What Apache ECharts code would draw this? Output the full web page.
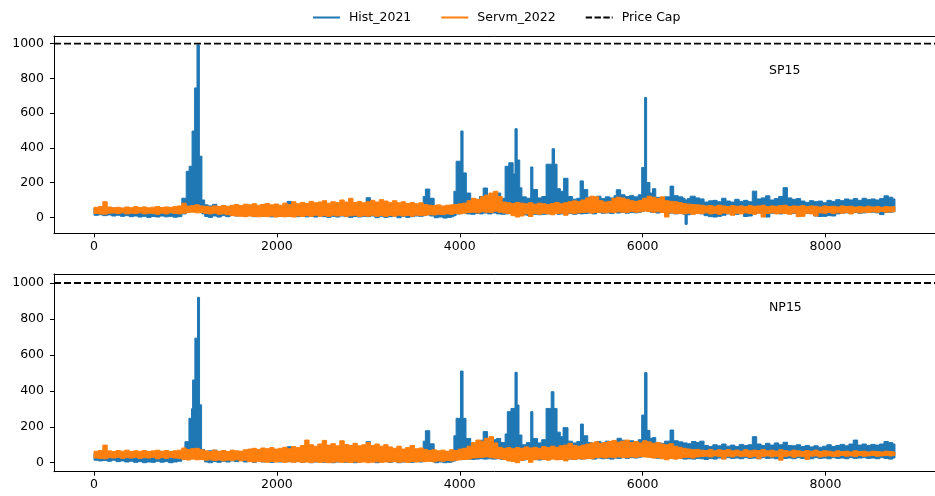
<!DOCTYPE html>
<html>
<head>
<meta charset="utf-8">
<script src="https://cdn.jsdelivr.net/npm/echarts@6/dist/echarts.min.js"></script>
<style>
  html, body { margin: 0; padding: 0; background: #fff; }
  #chart { width: 935px; height: 496px; }
</style>
</head>
<body>
<div id="chart"></div>
<script>
// Hourly prices over one year (8760 h), kept as runs of hours:
// each row is [startHour, lowest price, highest price] until the next row starts.
const HOURS_END = 8760;
const priceCap = 1000;
const zones = ['SP15', 'NP15'];
const seriesNames = ['Hist_2021', 'Servm_2022', 'Price Cap'];
const xTicks = [0, 2000, 4000, 6000, 8000];
const yTicks = [0, 200, 400, 600, 800, 1000];

const sp15Hist = [
  [0,12,55],[48,15,52],[96,10,58],[144,14,50],[192,8,54],[240,12,48],[288,6,52],[336,10,46],[384,4,50],[432,8,54],
  [480,2,48],[528,6,52],[576,0,45],[624,5,50],[672,2,48],[720,8,55],[768,3,50],[816,6,46],[864,1,52],[912,4,56],
  [960,20,110],[1008,30,265],[1040,40,294],[1072,50,497],[1100,60,745],[1126,70,992],[1152,50,352],[1180,20,100],
  [1210,5,72],[1248,0,66],[1296,8,75],[1344,2,62],[1392,10,68],[1440,4,58],[1488,12,55],[1536,8,60],[1584,14,52],
  [1632,6,58],[1680,10,55],[1728,4,50],[1776,12,56],[1824,6,52],[1872,10,60],[1920,3,54],[1968,8,58],[2016,5,62],
  [2064,10,56],[2112,6,92],[2160,8,60],[2208,4,56],[2256,10,62],[2304,3,58],[2352,6,64],[2400,2,60],[2448,8,72],
  [2496,4,58],[2544,0,62],[2592,6,56],[2640,2,60],[2688,8,64],[2736,4,58],[2784,0,62],[2832,5,60],[2880,2,66],
  [2928,6,70],[2976,4,113],[3024,8,60],[3072,-2,64],[3120,6,58],[3168,0,62],[3216,4,60],[3264,8,66],[3312,-2,58],
  [3360,6,62],[3408,0,60],[3456,4,64],[3504,8,58],[3552,6,70],
  [3600,10,120],[3624,15,163],[3672,8,110],[3720,-2,60],[3768,2,58],[3816,-4,62],[3864,0,56],[3912,4,70],
  [3936,10,150],[3960,20,323],[4012,30,497],[4036,25,256],[4072,20,140],[4120,18,95],[4168,22,100],[4216,20,120],
  [4256,25,169],[4304,20,110],[4352,25,130],[4400,20,140],[4448,18,110],[4496,20,294],[4536,22,314],[4584,22,250],
  [4604,25,510],[4628,22,330],[4656,20,170],[4680,15,118],[4728,12,110],[4776,20,290],[4800,18,160],[4850,15,112],
  [4896,18,120],[4944,20,306],[5010,25,395],[5036,22,306],[5064,18,165],[5100,20,150],[5136,20,225],[5184,22,120],
  [5232,18,105],[5280,22,110],[5316,20,210],[5352,22,160],[5400,25,115],[5448,20,110],[5496,28,122],[5544,24,108],
  [5592,26,118],[5640,22,112],[5688,28,125],[5712,25,159],[5760,28,130],[5808,24,120],[5856,28,125],[5904,26,118],
  [5952,30,130],[5990,35,287],[6022,40,690],[6044,35,200],[6080,30,140],[6108,28,165],[6144,25,115],[6192,28,110],
  [6240,22,118],[6300,25,180],[6340,20,125],[6390,22,118],[6440,18,110],[6464,-40,100],[6488,15,108],[6520,20,122],
  [6576,24,112],[6624,20,106],
  [6672,10,88],[6720,4,95],[6768,2,98],[6816,6,90],[6864,12,110],[6912,20,94],[6960,22,88],[7008,18,104],
  [7056,24,92],[7104,5,98],[7152,8,90],[7200,20,151],[7248,25,106],[7296,22,112],[7344,2,124],[7392,24,100],
  [7440,26,108],[7488,20,120],[7536,24,171],[7584,28,112],[7632,22,104],[7680,26,108],[7728,20,94],[7776,24,86],
  [7824,22,96],[7872,8,90],[7920,5,94],[7968,6,84],[8016,10,98],[8064,8,92],[8112,20,102],[8160,24,96],
  [8208,26,106],[8256,22,100],[8304,28,108],[8352,24,98],[8400,26,110],[8448,28,102],[8496,30,106],[8544,26,100],
  [8592,16,108],[8640,28,124],[8688,30,116],[8736,32,106]
];

const sp15Servm = [
  [0,22,58],[48,20,62],[96,18,90],[144,24,60],[192,25,55],[240,22,58],[288,26,54],[336,20,60],[384,24,56],[432,22,62],
  [480,26,57],[528,20,60],[576,24,55],[624,22,59],[672,18,62],[720,24,57],[768,20,60],[816,26,58],[864,22,63],[912,20,66],
  [960,24,82],[1008,28,65],[1056,30,68],[1104,26,72],[1152,28,66],[1200,22,64],[1248,20,60],[1296,24,66],[1344,18,62],
  [1392,20,68],[1440,15,64],[1488,10,70],[1536,8,74],[1584,6,68],[1632,4,76],[1680,8,72],[1728,5,78],[1776,3,70],
  [1824,6,75],[1872,4,80],[1920,8,72],[1968,2,77],[2016,5,70],[2064,3,82],[2112,6,74],[2160,2,90],[2208,8,78],
  [2256,5,86],[2304,10,80],[2352,6,92],[2400,12,84],[2448,7,88],[2496,10,96],[2544,5,82],[2592,12,90],[2640,8,85],
  [2688,11,100],[2736,6,88],[2784,9,110],[2832,12,86],[2880,5,92],[2928,10,84],[2976,7,90],[3024,12,98],[3072,6,88],
  [3120,10,102],[3168,5,94],[3216,11,86],[3264,7,96],[3312,12,84],[3360,8,90],[3408,11,80],[3456,7,86],[3504,12,78],
  [3552,10,84],[3600,12,74],[3648,15,70],[3696,14,68],[3744,18,72],[3792,16,66],[3840,20,70],[3888,18,72],
  [3936,22,74],[3984,20,78],[4032,25,82],[4080,28,96],[4128,30,110],[4176,26,104],[4224,32,118],[4272,30,128],
  [4320,28,140],[4368,35,150],[4416,30,120],[4464,25,88],[4512,22,84],[4560,10,80],[4608,2,86],[4656,8,82],
  [4704,20,78],[4752,5,84],[4800,22,76],[4848,18,82],[4896,24,78],[4944,20,74],[4992,15,80],[5040,22,86],
  [5088,24,78],[5136,12,84],[5184,25,90],[5232,22,95],[5280,26,92],[5328,28,100],[5376,30,112],[5424,25,122],
  [5472,28,118],[5520,30,96],[5568,26,88],[5616,30,92],[5664,28,110],[5712,32,116],[5760,30,112],[5808,28,104],
  [5856,34,96],[5904,30,92],[5952,32,98],[6000,36,110],[6048,34,122],[6096,30,116],[6144,32,108],[6192,28,118],
  [6240,2,96],[6288,26,92],[6336,22,90],[6384,22,86],[6432,20,80],[6480,24,76],[6528,18,74],[6576,22,72],
  [6624,22,70],[6672,26,66],[6720,20,68],[6768,24,64],[6816,18,70],[6864,25,66],[6912,22,62],[6960,12,68],
  [7008,24,64],[7056,20,66],[7104,26,62],[7152,22,68],[7200,18,64],[7248,24,66],[7296,2,70],[7344,22,62],
  [7392,26,66],[7440,20,64],[7488,24,68],[7536,22,70],[7584,18,62],[7632,25,66],[7680,4,64],[7728,6,68],
  [7776,24,62],[7824,20,66],[7872,8,64],[7920,26,60],[7968,24,66],[8016,28,62],[8064,22,64],[8112,26,60],
  [8160,24,66],[8208,28,62],[8256,20,64],[8304,30,60],[8352,26,62],[8400,30,60],[8448,28,64],[8496,32,60],
  [8544,30,62],[8592,34,58],[8640,30,62],[8688,32,60],[8736,34,62]
];

const np15Hist = [
  [0,14,52],[48,10,56],[96,12,50],[144,8,54],[192,14,48],[240,6,52],[288,10,46],[336,4,50],[384,8,54],[432,2,48],
  [480,6,52],[528,0,46],[576,4,50],[624,2,54],[672,8,48],[720,3,52],[768,6,46],[816,0,50],[864,4,55],[912,8,58],
  [960,20,70],[994,30,117],[1038,40,247],[1066,45,300],[1078,50,460],[1103,60,693],[1132,70,920],[1154,50,322],
  [1176,20,74],
  [1210,4,62],[1248,0,66],[1296,6,70],[1344,2,60],[1392,8,66],[1440,4,56],[1488,10,58],[1536,6,54],[1584,12,60],
  [1632,4,52],[1680,8,56],[1728,2,54],[1776,10,58],[1824,4,50],[1872,8,56],[1920,2,52],[1968,6,60],[2016,4,56],
  [2064,8,62],[2112,6,89],[2160,4,58],[2208,8,54],[2256,2,60],[2304,6,56],[2352,0,62],[2400,4,58],[2448,8,66],
  [2496,2,60],[2544,6,56],[2592,0,62],[2640,4,58],[2688,8,64],[2736,2,60],[2784,6,58],[2832,0,62],[2880,4,66],
  [2928,8,72],[2976,4,117],[3024,6,62],[3072,0,58],[3120,4,64],[3168,8,60],[3216,2,56],[3264,6,62],[3312,0,60],
  [3360,4,58],[3408,8,64],[3456,2,60],[3504,6,56],[3552,4,72],
  [3600,10,120],[3624,15,178],[3672,8,105],[3720,0,60],[3768,4,56],[3816,0,62],[3864,2,58],[3912,6,70],
  [3936,10,150],[3960,20,247],[4008,30,510],[4036,25,247],[4068,20,135],[4120,18,100],[4168,20,105],[4216,22,125],
  [4256,20,173],[4304,22,115],[4352,20,128],[4400,22,135],[4448,18,112],[4496,20,160],[4520,22,284],[4560,24,302],
  [4604,25,503],[4628,22,321],[4648,20,154],[4680,15,100],[4728,18,112],[4776,20,284],[4800,18,135],[4850,15,110],
  [4896,18,128],[4944,20,302],[5000,25,395],[5030,22,302],[5064,18,170],[5100,20,145],[5130,22,195],[5184,20,120],
  [5232,18,110],[5280,22,118],[5320,20,215],[5352,22,150],[5400,24,112],[5448,20,108],[5496,26,118],[5544,22,110],
  [5592,24,120],[5640,20,114],[5688,26,120],[5720,24,136],[5768,28,125],[5808,24,118],[5856,28,122],[5904,26,116],
  [5952,30,128],[5990,35,265],[6022,40,501],[6048,35,180],[6080,30,136],[6108,28,140],[6144,25,112],[6192,28,108],
  [6240,24,120],[6300,25,182],[6340,22,122],[6390,24,116],[6440,20,110],[6488,22,106],[6536,20,118],[6584,24,112],
  [6624,22,120],
  [6672,18,96],[6720,24,90],[6768,20,100],[6816,26,94],[6864,22,104],[6912,28,92],[6960,24,98],[7008,26,90],
  [7056,22,102],[7104,28,96],[7152,24,100],[7200,26,145],[7248,22,104],[7296,28,96],[7344,24,108],[7392,26,98],
  [7440,22,110],[7488,28,100],[7536,24,114],[7584,26,96],[7632,22,94],[7680,28,100],[7728,24,90],[7776,26,96],
  [7824,22,88],[7872,28,94],[7920,24,86],[7968,26,92],[8016,22,100],[8064,28,90],[8112,24,96],[8160,26,102],
  [8208,22,94],[8256,28,104],[8304,24,126],[8352,26,98],[8400,28,104],[8448,24,96],[8496,26,102],[8544,22,98],
  [8592,28,104],[8640,24,118],[8688,20,112],[8736,26,104]
];

const np15Servm = [
  [0,26,64],[48,24,68],[96,22,98],[144,28,66],[192,26,62],[240,30,68],[288,24,64],[336,28,70],[384,26,62],[432,30,66],
  [480,24,64],[528,28,68],[576,26,62],[624,30,66],[672,22,70],[720,28,64],[768,24,68],[816,30,62],[864,26,66],[912,24,70],
  [960,18,82],[1008,15,74],[1056,20,78],[1104,16,80],[1152,18,72],
  [1200,14,66],[1248,16,62],[1296,12,70],[1344,15,64],[1392,10,68],[1440,14,62],[1488,12,70],[1536,16,66],[1584,10,64],
  [1632,14,72],[1680,6,76],[1728,4,80],[1776,8,74],[1824,5,82],[1872,3,78],[1920,7,84],[1968,4,76],[2016,6,80],
  [2064,2,86],[2112,5,78],[2160,3,90],[2208,5,84],[2256,2,96],[2304,4,126],[2352,1,100],[2400,5,92],[2448,2,104],
  [2496,4,124],[2544,0,98],[2592,3,106],[2640,5,94],[2688,2,122],[2736,4,102],[2784,1,96],[2832,5,108],[2880,2,94],
  [2928,4,100],[2976,0,112],[3024,3,96],[3072,5,104],[3120,2,92],[3168,4,100],[3216,4,88],[3264,6,80],[3312,3,92],
  [3360,5,76],[3408,2,84],[3456,6,96],[3504,4,78],[3552,8,82],[3600,6,74],[3648,8,68],[3696,5,72],[3744,10,66],
  [3792,8,70],[3840,12,64],[3888,10,72],[3936,14,68],[3984,16,76],[4032,18,80],[4080,20,92],
  [4128,26,112],[4176,28,126],[4224,30,120],[4272,32,136],[4320,28,145],[4368,25,110],[4416,22,86],[4464,18,80],
  [4512,10,84],[4560,6,78],[4608,0,84],[4656,12,80],[4704,18,88],[4752,2,82],[4800,16,86],[4848,20,80],[4896,18,90],
  [4944,14,84],[4992,20,92],[5040,16,86],[5088,18,94],[5136,10,98],[5184,20,108],[5232,18,96],[5280,22,92],
  [5328,20,98],[5376,24,104],[5424,22,110],[5472,28,116],[5520,30,108],[5568,26,112],[5616,30,118],[5664,28,124],
  [5712,32,114],[5760,30,120],[5808,28,126],[5856,32,112],[5904,30,118],[5952,34,110],[6000,32,122],[6048,30,116],
  [6096,26,108],[6144,28,112],[6192,22,104],[6240,16,100],[6288,24,106],
  [6336,20,92],[6384,24,86],[6432,28,80],[6480,30,76],[6528,26,72],[6576,32,74],[6624,34,70],[6672,36,68],
  [6720,32,74],[6768,38,66],[6816,34,72],[6864,20,68],[6912,36,74],[6960,32,66],[7008,38,70],[7056,34,64],
  [7104,36,72],[7152,30,66],[7200,36,70],[7248,22,68],[7296,34,74],[7344,38,66],[7392,32,70],[7440,36,64],
  [7488,14,72],[7536,34,68],[7584,38,64],[7632,30,70],[7680,36,66],[7728,34,62],[7776,18,68],[7824,36,64],
  [7872,38,70],[7920,32,62],[7968,36,66],[8016,38,64],[8064,34,60],[8112,36,66],[8160,40,62],[8208,36,64],
  [8256,38,60],[8304,34,66],[8352,40,62],[8400,36,64],[8448,38,60],[8496,40,64],[8544,36,62],[8592,38,60],
  [8640,40,64],[8688,38,62],[8736,40,60]
];

const BLUE = '#1f77b4';
const ORANGE = '#ff7f0e';
const FONT = 'DejaVu Sans';
const X_MIN = -438, X_MAX = 9198;
const yLimits = [[-91.6, 1043.6], [-50, 1050]];
const panels = [
  { hist: sp15Hist, servm: sp15Servm, grid: { left: 54, top: 36, width: 893, height: 197.3 } },
  { hist: np15Hist, servm: np15Servm, grid: { left: 54, top: 274, width: 893, height: 197.7 } }
];

// Draws the hourly low/high runs of one series as a single stepped band.
function bandSeries(name, rows, color, idx) {
  return {
    type: 'custom',
    name: name,
    xAxisIndex: 2 * idx,
    yAxisIndex: 2 * idx,
    data: rows,
    encode: { x: 0, y: [1, 2] },
    clip: true,
    silent: true,
    itemStyle: { color: color },
    renderItem: function (params, api) {
      if (params.dataIndex !== 0) return null;
      const top = [], bottom = [];
      for (let i = 0; i < rows.length; i++) {
        const h0 = rows[i][0];
        const h1 = i + 1 < rows.length ? rows[i + 1][0] : HOURS_END;
        top.push(api.coord([h0, rows[i][2]]), api.coord([h1, rows[i][2]]));
        bottom.push(api.coord([h0, rows[i][1]]), api.coord([h1, rows[i][1]]));
      }
      return {
        type: 'polygon',
        shape: { points: top.concat(bottom.reverse()) },
        style: { fill: color, stroke: color, lineWidth: 1, lineJoin: 'miter' }
      };
    }
  };
}

const spine = { show: true, onZero: false, lineStyle: { color: '#000', width: 1 } };
const tickStyle = { show: true, inside: false, length: 4, lineStyle: { color: '#000', width: 1 } };
const labelStyle = { color: '#000', fontFamily: FONT, fontSize: 12.5, formatter: function (v) { return String(v); } };

const grids = [], xAxes = [], yAxes = [], series = [];
panels.forEach(function (p, i) {
  grids.push(p.grid);
  // bottom / left axes carry ticks and labels; top / right ones only close the frame
  xAxes.push({
    type: 'value', gridIndex: i, position: 'bottom', min: X_MIN, max: X_MAX,
    axisLine: spine, splitLine: { show: false },
    axisTick: Object.assign({ customValues: xTicks }, tickStyle),
    axisLabel: Object.assign({ margin: 7, customValues: xTicks }, labelStyle)
  });
  xAxes.push({
    type: 'value', gridIndex: i, position: 'top', min: X_MIN, max: X_MAX,
    axisLine: spine, splitLine: { show: false }, axisTick: { show: false }, axisLabel: { show: false }
  });
  yAxes.push({
    type: 'value', gridIndex: i, position: 'left', min: yLimits[i][0], max: yLimits[i][1],
    axisLine: spine, splitLine: { show: false },
    axisTick: Object.assign({ customValues: yTicks }, tickStyle),
    axisLabel: Object.assign({ margin: 10, customValues: yTicks }, labelStyle)
  });
  yAxes.push({
    type: 'value', gridIndex: i, position: 'right', min: yLimits[i][0], max: yLimits[i][1],
    axisLine: spine, splitLine: { show: false }, axisTick: { show: false }, axisLabel: { show: false }
  });
  series.push(bandSeries(seriesNames[0], p.hist, BLUE, i));
  series.push(bandSeries(seriesNames[1], p.servm, ORANGE, i));
  series.push({
    type: 'line', name: seriesNames[2], xAxisIndex: 2 * i, yAxisIndex: 2 * i,
    data: [[X_MIN, priceCap], [X_MAX, priceCap]],
    symbol: 'none', silent: true,
    itemStyle: { color: '#000' },
    lineStyle: { color: '#000', width: 1.9, type: [7, 3] }
  });
});

const chart = echarts.init(document.getElementById('chart'), null, { renderer: 'canvas' });
chart.setOption({
  animation: false,
  backgroundColor: '#fff',
  grid: grids,
  xAxis: xAxes,
  yAxis: yAxes,
  legend: {
    top: 6, left: 308,
    itemWidth: 27, itemHeight: 2, itemGap: 30,
    selectedMode: false,
    formatter: function (name) { return ' ' + name; },
    textStyle: { fontFamily: FONT, fontSize: 12.5, color: '#000' },
    data: [
      { name: seriesNames[0], icon: 'rect' },
      { name: seriesNames[1], icon: 'rect' },
      { name: seriesNames[2], icon: 'path://M0,0h6.5v2h-6.5z M9,0h6.5v2h-6.5z M18,0h6.5v2h-6.5z M26.5,0h1v2h-1z' }
    ]
  },
  graphic: [
    { type: 'text', left: 769, top: 64, style: { text: zones[0], font: '12.5px "DejaVu Sans"', fill: '#000' } },
    { type: 'text', left: 769, top: 301, style: { text: zones[1], font: '12.5px "DejaVu Sans"', fill: '#000' } }
  ],
  series: series
});
</script>
</body>
</html>
